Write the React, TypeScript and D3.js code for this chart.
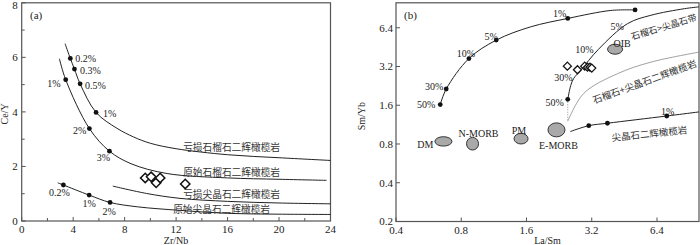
import React from 'react';
import * as d3 from 'd3';

// ---- panel (a): Ce/Y vs Zr/Nb ----
const aXTicks = [0, 4, 8, 12, 16, 20, 24];
const aXMinor = [2, 6, 10, 14, 18, 22];
const aYTicks = [0, 2, 4, 6, 8];
const aYMinor = [1, 3, 5, 7];

// melting curves, [Zr/Nb, Ce/Y]
const depGarnetCurve = [[3.37, 6.5], [3.78, 5.96], [4.1, 5.57], [4.54, 5.03], [5.78, 3.98], [7.4, 3.4], [8.7, 3.08], [10, 2.85], [12, 2.65], [16, 2.43], [20, 2.32], [24, 2.22]];
const primGarnetCurve = [[2.93, 5.95], [3.42, 5.18], [5.26, 3.39], [6.82, 2.56], [8.5, 2.1], [11.3, 1.74], [16, 1.58], [20, 1.53], [23.7, 1.49]];
const depSpinelCurve = [[7.08, 1.28], [9.7, 1.01], [12.3, 0.83], [16, 0.72], [20, 0.66], [24, 0.63]];
const primSpinelCurve = [[2.8, 1.4], [3.24, 1.32], [5.24, 0.95], [6.87, 0.68], [9, 0.52], [12.3, 0.39], [16, 0.28], [20, 0.25], [24, 0.24]];

const depGarnetDots = [[3.78, 5.96], [4.1, 5.57], [4.54, 5.03], [5.78, 3.98]];
const depGarnetDotLabels = ['0.2%', '0.3%', '0.5%', '1%'];
const primGarnetDots = [[3.42, 5.18], [5.26, 3.39], [6.82, 2.56]];
const primGarnetDotLabels = ['1%', '2%', '3%'];
const primSpinelDots = [[3.24, 1.32], [5.24, 0.95], [6.87, 0.68]];
const primSpinelDotLabels = ['0.2%', '1%', '2%'];

const aCurveNames = ['亏损石榴石二辉橄榄岩', '原始石榴石二辉橄榄岩', '亏损尖晶石二辉橄榄岩', '原始尖晶石二辉橄榄岩'];
const aCurveNameAt = [[12.55, 2.72], [12.55, 1.8], [12.55, 0.99], [11.77, 0.45]];

const aSamplesZrNb = [9.6, 10.06, 10.45, 10.76, 12.71];
const aSamplesCeY = [1.58, 1.62, 1.4, 1.58, 1.36];

// ---- panel (b): Sm/Yb vs La/Sm (log-log) ----
const bXTicks = [0.4, 0.8, 1.6, 3.2, 6.4];
const bYTicks = [0.2, 0.4, 0.8, 1.6, 3.2, 6.4];

const garnetCurve = [[0.64, 1.62], [0.682, 2.14], [0.868, 3.69], [1.16, 5.13], [1.67, 6.5], [2.48, 7.56], [3.92, 8.72], [5.07, 8.8]];
const garnetDots = [[0.64, 1.62], [0.682, 2.14], [0.868, 3.69], [1.16, 5.13], [2.48, 7.56], [5.07, 8.8]];
const garnetDotLabels = ['50%', '30%', '10%', '5%', '1%', ''];

const mixCurve = [[2.48, 1.78], [2.56, 2.28], [2.64, 2.58], [2.84, 2.98], [3.44, 4.36], [4.69, 6.9], [6.0, 8.0], [8.56, 9.0], [10, 9.3]];
const mixLabelAt = [[2.48, 1.78], [2.64, 2.58], [3.44, 4.36], [4.69, 6.9]];
const mixLabels = ['50%', '30%', '10%', '5%'];

const boundaryCurve = [[2.48, 1.2], [2.94, 1.98], [4.22, 2.82], [6.0, 3.46], [10, 4.14]];
const boundaryDrop = [[2.48, 1.78], [2.48, 1.2]];

const spinelCurve = [[2.55, 1.0], [3.1, 1.11], [3.78, 1.16], [7.1, 1.32], [10, 1.42]];
const spinelDots = [[3.1, 1.11], [3.78, 1.16], [7.1, 1.32]];
const spinelDotLabels = ['', '', '1%'];

const reservoirNames = ['DM', 'N-MORB', 'PM', 'E-MORB', 'OIB'];
const reservoirLaSm = [0.662, 0.902, 1.51, 2.2, 4.1];
const reservoirSmYb = [0.838, 0.804, 0.88, 1.03, 4.36];

const bSamplesLaSm = [2.47, 2.75, 2.97, 3.06, 3.14, 3.2];
const bSamplesSmYb = [3.22, 3.02, 3.22, 3.16, 3.16, 3.11];

const bZoneNames = ['石榴石>尖晶石带', '石榴石+尖晶石二辉橄榄岩', '尖晶石二辉橄榄岩'];
const bZoneAt = [[6.88, 6.52], [5.6, 2.46], [5.9, 0.97]];

const serif = '"Liberation Serif", "DejaVu Serif", serif';
const cjk = '"Noto Sans CJK SC", sans-serif';
const axisColor = '#555';

function diamond(x: number, y: number, s: number) {
  return `M${x},${y - s}L${x + s},${y}L${x},${y + s}L${x - s},${y}Z`;
}

function PanelA() {
  const x = d3.scaleLinear().domain([0, 24]).range([21.7, 330.5]);
  const y = d3.scaleLinear().domain([0, 8]).range([221, 2.8]);
  const lineFn = d3.line<number[]>().x(d => x(d[0])).y(d => y(d[1])).curve(d3.curveCatmullRom.alpha(0.5));
  const [x0, x1] = x.range();
  const [y0, y1] = y.range();

  const dotSets = [
    { pts: depGarnetDots, labels: depGarnetDotLabels, off: [[5, 0, 'start'], [5.5, 1.5, 'start'], [5, 2, 'start'], [7, 1, 'start']] },
    { pts: primGarnetDots, labels: primGarnetDotLabels, off: [[-5, 3.5, 'end'], [-3, 2, 'end'], [0.7, 6, 'end']] },
    { pts: primSpinelDots, labels: primSpinelDotLabels, off: [[-4, 8, 'middle'], [0, 8, 'middle'], [-1, 9, 'middle']] },
  ];

  return (
    <g>
      <rect x={x0} y={y1} width={x1 - x0} height={y0 - y1} fill="none" stroke={axisColor} strokeWidth={1.2} />
      {aXTicks.map(t => (
        <g key={'xt' + t}>
          <line x1={x(t)} x2={x(t)} y1={y0} y2={y0 - 4} stroke={axisColor} />
          <text x={x(t)} y={y0 + 12} textAnchor="middle" fontFamily={serif} fontSize={11} fill="#222">{t}</text>
        </g>
      ))}
      {aXMinor.map(t => (
        <line key={'xm' + t} x1={x(t)} x2={x(t)} y1={y0} y2={y0 - 3} stroke={axisColor} />
      ))}
      {aYTicks.map(t => (
        <g key={'yt' + t}>
          <line x1={x0} x2={x0 + 4} y1={y(t)} y2={y(t)} stroke={axisColor} />
          <text x={x0 - 4} y={Math.max(y(t), 5.5)} dy="0.35em" textAnchor="end" fontFamily={serif} fontSize={11} fill="#222">{t}</text>
        </g>
      ))}
      {aYMinor.map(t => (
        <line key={'ym' + t} x1={x0} x2={x0 + 3} y1={y(t)} y2={y(t)} stroke={axisColor} />
      ))}
      <text x={(x0 + x1) / 2} y={243.5} textAnchor="middle" fontFamily={serif} fontSize={10} fill="#222">Zr/Nb</text>
      <text transform={`translate(8,${(y0 + y1) / 2 + 2}) rotate(-90)`} textAnchor="middle" fontFamily={serif} fontSize={10} fill="#222">Ce/Y</text>
      <text x={30} y={15} dy="0.35em" fontFamily={serif} fontSize={11} fill="#222">(a)</text>

      {[depGarnetCurve, primGarnetCurve, depSpinelCurve, primSpinelCurve].map((c, i) => (
        <path key={'c' + i} d={lineFn(c) || ''} fill="none" stroke="#222" strokeWidth={1} />
      ))}
      {dotSets.map((s, si) => s.pts.map((p, i) => (
        <g key={`d${si}-${i}`}>
          <circle cx={x(p[0])} cy={y(p[1])} r={2.4} fill="#111" />
          <text x={x(p[0]) + (s.off[i][0] as number)} y={y(p[1]) + (s.off[i][1] as number)} dominantBaseline="central"
            textAnchor={s.off[i][2] as string} fontFamily={serif} fontSize={10} fill="#222">{s.labels[i]}</text>
        </g>
      )))}
      {aCurveNames.map((n, i) => (
        <text key={n} x={x(aCurveNameAt[i][0])} y={y(aCurveNameAt[i][1])} dominantBaseline="central"
          fontFamily={cjk} fontSize={9.7} fill="#333">{n}</text>
      ))}
      {aSamplesZrNb.map((v, i) => (
        <path key={'s' + i} d={diamond(x(v), y(aSamplesCeY[i]), 4.7)} fill="#fff" stroke="#111" strokeWidth={1.5} />
      ))}
    </g>
  );
}

function PanelB() {
  const x = d3.scaleLog().domain([0.4, 10]).range([396, 699]);
  const y = d3.scaleLog().domain([0.2, 10]).range([221.5, 2.8]);
  const lineFn = d3.line<number[]>().x(d => x(d[0])).y(d => y(d[1])).curve(d3.curveCatmullRom.alpha(0.5));
  const [x0, x1] = x.range();
  const [y0, y1] = y.range();

  const garnetOff = [[-5, 0, 'end'], [-3, -2, 'end'], [-3, -5, 'middle'], [-5, -4, 'middle'], [-8, -5, 'middle'], [0, 0, 'middle']];
  const mixOff = [[-4, 3, 'end'], [-1, -1, 'end'], [-5, 0, 'end'], [-4, 3, 'end']];
  const resOff = [[-10, 3, 'end'], [6, -10, 'middle'], [-2, -8, 'middle'], [2, 16, 'middle'], [7, -6, 'middle']];
  const resR = [[8.5, 4.7], [6, 6.3], [7, 5.3], [8.5, 7], [7.5, 5]];
  const zoneRot = [-17, -20, -6];
  const zoneSize = [9, 9.5, 9.5];

  return (
    <g>
      <rect x={x0} y={y1} width={x1 - x0} height={y0 - y1} fill="none" stroke={axisColor} strokeWidth={1.2} />
      {bXTicks.map(t => (
        <g key={'xt' + t}>
          <line x1={x(t)} x2={x(t)} y1={y0} y2={y0 - 4} stroke={axisColor} />
          <text x={x(t)} y={y0 + 12} textAnchor="middle" fontFamily={serif} fontSize={11} fill="#222">{t}</text>
        </g>
      ))}
      {bYTicks.map(t => (
        <g key={'yt' + t}>
          <line x1={x0} x2={x0 + 4} y1={y(t)} y2={y(t)} stroke={axisColor} />
          <text x={x0 - 3} y={y(t)} dy="0.35em" textAnchor="end" fontFamily={serif} fontSize={11} fill="#222">{t}</text>
        </g>
      ))}
      <text x={(x0 + x1) / 2} y={243.5} textAnchor="middle" fontFamily={serif} fontSize={10} fill="#222">La/Sm</text>
      <text transform={`translate(365,${(y0 + y1) / 2 + 4}) rotate(-90)`} textAnchor="middle" fontFamily={serif} fontSize={10} fill="#222">Sm/Yb</text>
      <text x={404} y={15} dy="0.35em" fontFamily={serif} fontSize={11} fill="#222">(b)</text>

      <path d={lineFn(boundaryCurve) || ''} fill="none" stroke="#888" strokeWidth={0.8} />
      <path d={d3.line<number[]>().x(d => x(d[0])).y(d => y(d[1]))(boundaryDrop) || ''} fill="none" stroke="#888" strokeWidth={0.9} strokeDasharray="1,1.5" />
      <path d={lineFn(garnetCurve) || ''} fill="none" stroke="#222" strokeWidth={1} />
      <path d={lineFn(mixCurve) || ''} fill="none" stroke="#222" strokeWidth={1} />
      <path d={lineFn(spinelCurve) || ''} fill="none" stroke="#222" strokeWidth={1} />

      {garnetDots.map((p, i) => (
        <g key={'gd' + i}>
          <circle cx={x(p[0])} cy={y(p[1])} r={2.4} fill="#111" />
          <text x={x(p[0]) + (garnetOff[i][0] as number)} y={y(p[1]) + (garnetOff[i][1] as number)} dominantBaseline="central"
            textAnchor={garnetOff[i][2] as string} fontFamily={serif} fontSize={10} fill="#222">{garnetDotLabels[i]}</text>
        </g>
      ))}
      <circle cx={x(mixCurve[0][0])} cy={y(mixCurve[0][1])} r={2.4} fill="#111" />
      {mixLabelAt.map((p, i) => (
        <text key={'ml' + i} x={x(p[0]) + (mixOff[i][0] as number)} y={y(p[1]) + (mixOff[i][1] as number)} dominantBaseline="central"
          textAnchor={mixOff[i][2] as string} fontFamily={serif} fontSize={10} fill="#222">{mixLabels[i]}</text>
      ))}
      {spinelDots.map((p, i) => (
        <g key={'sd' + i}>
          <circle cx={x(p[0])} cy={y(p[1])} r={2.4} fill="#111" />
          <text x={x(p[0]) + 1} y={y(p[1]) - 5} dominantBaseline="central" textAnchor="middle"
            fontFamily={serif} fontSize={10} fill="#222">{spinelDotLabels[i]}</text>
        </g>
      ))}

      {reservoirNames.map((n, i) => (
        <g key={n}>
          <ellipse cx={x(reservoirLaSm[i])} cy={y(reservoirSmYb[i])} rx={resR[i][0]} ry={resR[i][1]} fill="#a9a9a9" stroke="#333" strokeWidth={1} />
          <text x={x(reservoirLaSm[i]) + (resOff[i][0] as number)} y={y(reservoirSmYb[i]) + (resOff[i][1] as number)} dominantBaseline="central"
            textAnchor={resOff[i][2] as string} fontFamily={serif} fontSize={10} fill="#222">{n}</text>
        </g>
      ))}

      {bZoneNames.map((n, i) => (
        <text key={n} transform={`translate(${x(bZoneAt[i][0])},${y(bZoneAt[i][1])}) rotate(${zoneRot[i]})`}
          textAnchor="middle" dominantBaseline="central" fontFamily={cjk} fontSize={zoneSize[i]} fill="#333">{n}</text>
      ))}

      {bSamplesLaSm.map((v, i) => (
        <path key={'bs' + i} d={diamond(x(v), y(bSamplesSmYb[i]), 4)} fill="#fff" stroke="#111" strokeWidth={1.3} />
      ))}
    </g>
  );
}

export default function App() {
  return (
    <svg width={700} height={245} style={{ position: 'absolute', left: 0, top: 0, background: '#fff' }}>
      <rect width={700} height={245} fill="#fff" />
      <PanelA />
      <PanelB />
    </svg>
  );
}
